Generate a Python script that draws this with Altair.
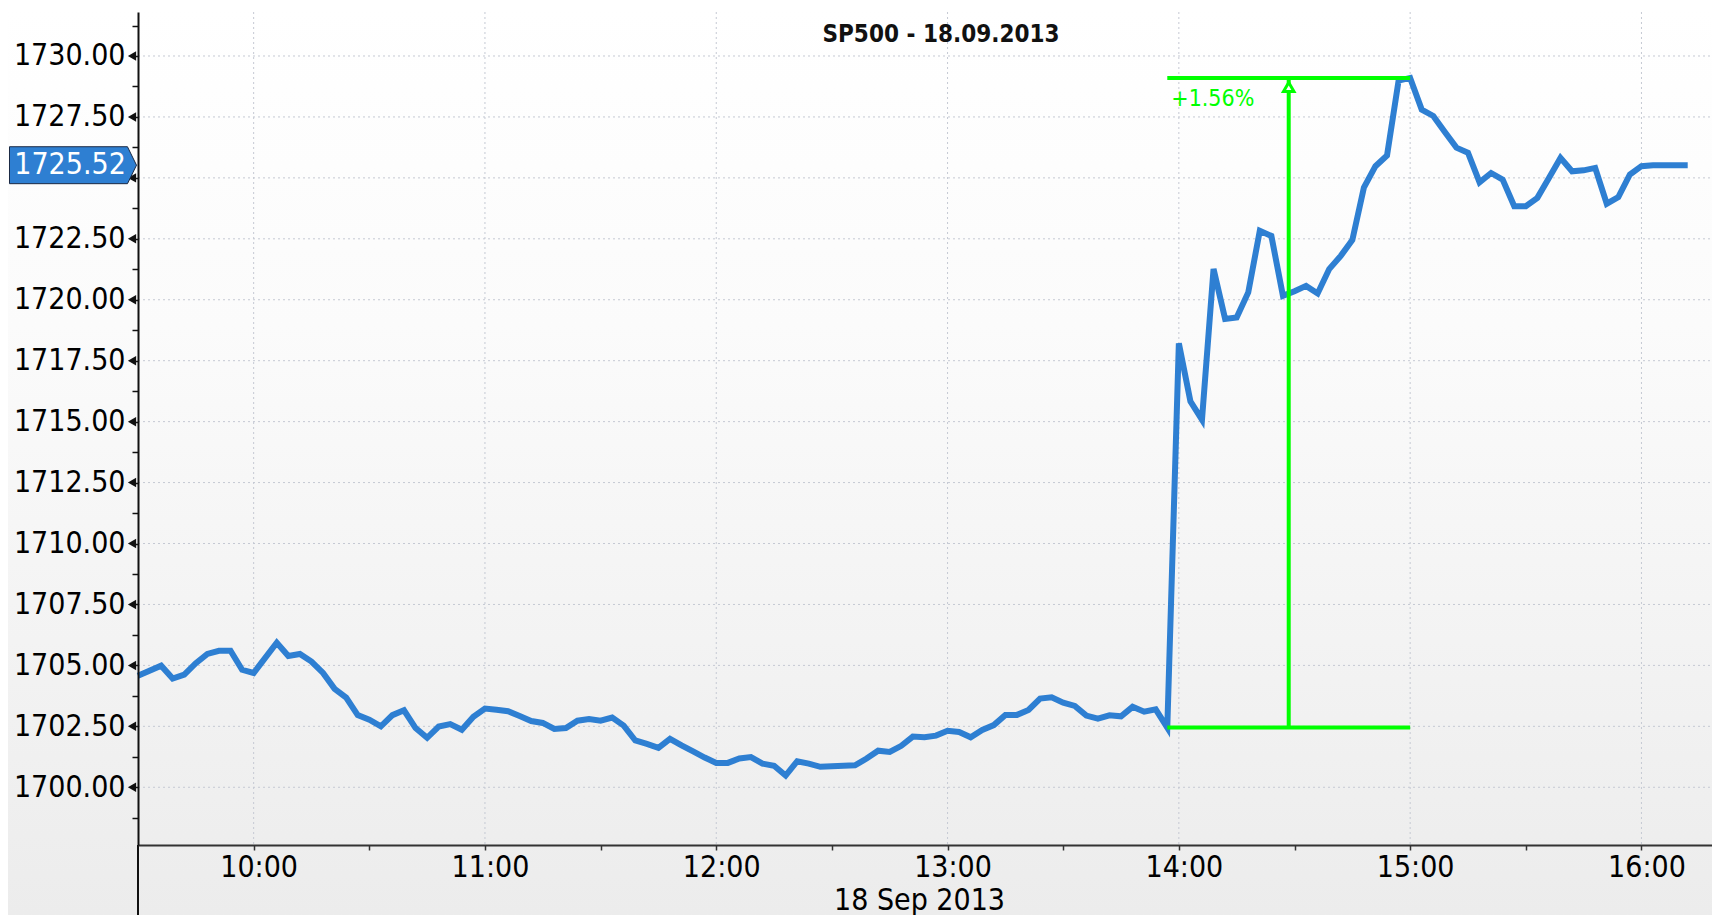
import altair as alt
import pandas as pd

# ---------------- data ----------------
DAY = "2013-09-18T"
times = [
    "09:30", "09:36", "09:39", "09:42", "09:45", "09:48", "09:51", "09:54", "09:57",
    "10:00", "10:06", "10:09", "10:12", "10:15", "10:18", "10:21", "10:24", "10:27",
    "10:30", "10:33", "10:36", "10:39", "10:42", "10:45", "10:48", "10:51", "10:54", "10:57",
    "11:00", "11:03", "11:06", "11:09", "11:12", "11:15", "11:18", "11:21", "11:24", "11:27",
    "11:30", "11:33", "11:36", "11:39", "11:42", "11:45", "11:48", "11:51", "11:54", "11:57",
    "12:00", "12:03", "12:06", "12:09", "12:12", "12:15", "12:18", "12:21", "12:24", "12:27",
    "12:30", "12:33", "12:36", "12:39", "12:42", "12:45", "12:48", "12:51", "12:54", "12:57",
    "13:00", "13:03", "13:06", "13:09", "13:12", "13:15", "13:18", "13:21", "13:24", "13:27",
    "13:30", "13:33", "13:36", "13:39", "13:42", "13:45", "13:48", "13:51", "13:54", "13:57",
    "14:00", "14:03", "14:06", "14:09", "14:12", "14:15", "14:18", "14:21", "14:24", "14:27",
    "14:30", "14:33", "14:36", "14:39", "14:42", "14:45", "14:48", "14:51", "14:54", "14:57",
    "15:00", "15:03", "15:06", "15:09", "15:12", "15:15", "15:18", "15:21", "15:24", "15:27",
    "15:30", "15:33", "15:36", "15:39", "15:42", "15:45", "15:48", "15:51", "15:54", "15:57",
    "16:00", "16:03", "16:06", "16:09", "16:12",
]
prices = [
    1704.58, 1704.99, 1704.46, 1704.62, 1705.09, 1705.47, 1705.60, 1705.60, 1704.82,
    1704.69, 1705.93, 1705.39, 1705.47, 1705.16, 1704.69, 1704.04, 1703.68, 1702.96,
    1702.77, 1702.50, 1702.96, 1703.16, 1702.43, 1702.03, 1702.49, 1702.59, 1702.36, 1702.89,
    1703.23, 1703.18, 1703.12, 1702.92, 1702.72, 1702.64, 1702.39, 1702.43, 1702.73, 1702.80,
    1702.73, 1702.86, 1702.53, 1701.92, 1701.78, 1701.62, 1701.99, 1701.72, 1701.47, 1701.22,
    1701.00, 1701.00, 1701.18, 1701.24, 1700.97, 1700.88, 1700.48, 1701.07, 1700.97, 1700.84,
    1700.86, 1700.88, 1700.90, 1701.18, 1701.50, 1701.45, 1701.70, 1702.08, 1702.05, 1702.12,
    1702.32, 1702.27, 1702.05, 1702.35, 1702.55, 1702.97, 1702.97, 1703.17, 1703.64, 1703.69,
    1703.47, 1703.34, 1702.94, 1702.82, 1702.95, 1702.91, 1703.30, 1703.10, 1703.20, 1702.45,
    1718.21, 1715.83, 1715.08, 1721.26, 1719.21, 1719.27, 1720.30, 1722.83, 1722.62, 1720.16,
    1720.35, 1720.57, 1720.26, 1721.26, 1721.80, 1722.45, 1724.60, 1725.48, 1725.92, 1728.99,
    1729.10, 1727.80, 1727.54, 1726.88, 1726.24, 1726.03, 1724.82, 1725.20, 1724.93, 1723.84,
    1723.84, 1724.18, 1725.00, 1725.82, 1725.27, 1725.31, 1725.41, 1723.94, 1724.21, 1725.14,
    1725.48, 1725.52, 1725.52, 1725.52, 1725.52,
]

hour_lines = ["10:00", "11:00", "12:00", "13:00", "14:00", "15:00", "16:00"]
x_tick_times = ["10:00", "10:30", "11:00", "11:30", "12:00", "12:30", "13:00", "13:30",
                "14:00", "14:30", "15:00", "15:30", "16:00"]
y_major = [1700.0, 1702.5, 1705.0, 1707.5, 1710.0, 1712.5, 1715.0, 1717.5,
           1720.0, 1722.5, 1725.0, 1727.5, 1730.0]
y_minor = [1698.75, 1701.25, 1703.75, 1706.25, 1708.75, 1711.25, 1713.75, 1716.25,
           1718.75, 1721.25, 1723.75, 1726.25, 1728.75, 1731.25]

ann_start = "13:57"
ann_end = "15:00"
ann_mid = "14:28:30"
ann_low = 1702.45
ann_high = 1729.10
ann_label = "+1.56%"
last_price = 1725.52

title_text = "SP500 - 18.09.2013"
date_text = "18 Sep 2013"

# ---------------- layout / style ----------------
W, H = 1574, 833
PAD_L, PAD_T, PAD_B = 130, 4, 70
FONT = "DejaVu Sans Condensed, DejaVu Sans"
BLUE = "#2e7fd2"
GREEN = "#00ff00"
GRID = "#c5c9d3"


def ts(t):
    if t.count(":") == 1:
        t = t + ":00"
    return DAY + t


def dt(t):
    parts = [int(p) for p in t.split(":")]
    while len(parts) < 3:
        parts.append(0)
    return alt.DateTime(year=2013, month=9, date=18, hours=parts[0], minutes=parts[1], seconds=parts[2])


xs = alt.Scale(domain=[dt("09:30"), dt("16:18:18")], nice=False)
ys = alt.Scale(domain=[1697.632, 1731.805], nice=False, zero=False)

x_axis = alt.Axis(
    values=[dt(t) for t in x_tick_times],
    labelExpr="minutes(datum.value) == 0 ? timeFormat(datum.value, '%H:%M') : ''",
    labelFont=FONT, labelFontSize=30, labelColor="#000000", labelPadding=2,
    labelOverlap=False, labelFlush=False, labelOffset=5,
    tickSize=5, tickColor="#333333", tickWidth=1.5,
    domainColor="#333333", domainWidth=2, grid=False, zindex=1,
    title=date_text, titleFont=FONT, titleFontSize=30, titleFontWeight="normal",
    titleColor="#000000", titleX=781, titleY=64, titleAlign="center",
    titleBaseline="alphabetic", titleAngle=0,
)
y_axis = alt.Axis(
    values=sorted(y_major + y_minor),
    labelExpr="(datum.value % 2.5 == 0 && datum.value != 1725) ? format(datum.value, '.2f') : ''",
    labelFont=FONT, labelFontSize=30, labelColor="#000000", labelPadding=7,
    labelOverlap=False, labelFlush=False,
    tickSize=6, tickColor="#111111", tickWidth=1.5,
    domainColor="#111111", domainWidth=2, grid=False, zindex=1, title=None,
)


def X(field):
    return alt.X(field, scale=xs, axis=x_axis)


def Y(field):
    return alt.Y(field, scale=ys, axis=y_axis)


line_df = pd.DataFrame({"time": [ts(t) for t in times], "price": prices})
hour_df = pd.DataFrame({"time": [ts(t) for t in hour_lines]})
major_df = pd.DataFrame({"price": y_major})
one_df = pd.DataFrame({"k": [0]})
hbar_df = pd.DataFrame({"time": [ts(ann_start)] * 2, "end": [ts(ann_end)] * 2,
                        "price": [ann_low, ann_high]})
vbar_df = pd.DataFrame({"time": [ts(ann_mid)], "price": [ann_low], "high": [ann_high]})
arrow_df = pd.DataFrame({"time": [ts(ann_mid)], "price": [ann_high]})
ann_df = pd.DataFrame({"time": [ts(ann_start)], "price": [ann_high], "label": [ann_label]})
last_df = pd.DataFrame({"price": [last_price]})

gradient = {
    "gradient": "linear",
    "x1": 0, "y1": 0, "x2": 0, "y2": 1,
    "stops": [{"offset": 0, "color": "#ffffff"},
              {"offset": 0.35, "color": "#fbfbfb"},
              {"offset": 1, "color": "#ececec"}],
}

bg = alt.Chart(one_df).mark_rect(fill=gradient).encode(
    x=alt.value(-PAD_L), x2=alt.value(W), y=alt.value(-PAD_T), y2=alt.value(H + PAD_B)
)

vgrid = alt.Chart(hour_df).mark_rule(color=GRID, strokeDash=[2, 3], strokeWidth=1).encode(
    x=X("time:T"), y=alt.value(0), y2=alt.value(H)
)
hgrid = alt.Chart(major_df).mark_rule(color=GRID, strokeDash=[2, 3], strokeWidth=1).encode(
    y=Y("price:Q"), x=alt.value(0), x2=alt.value(W)
)

axis_ext = alt.Chart(one_df).mark_rule(color="#111111", strokeWidth=2).encode(
    x=alt.value(0), y=alt.value(H), y2=alt.value(H + PAD_B)
)

tri = alt.Chart(major_df).mark_point(shape="triangle-left", filled=True, color="#111111",
                                     size=90, opacity=1).encode(
    x=alt.value(-6), y=Y("price:Q")
)

line = alt.Chart(line_df).mark_line(color=BLUE, strokeWidth=6).encode(
    x=X("time:T"), y=Y("price:Q"),
)

hbars = alt.Chart(hbar_df).mark_rule(color=GREEN, strokeWidth=4).encode(
    x=X("time:T"), x2="end:T", y=Y("price:Q"),
)
vbar = alt.Chart(vbar_df).mark_rule(color=GREEN, strokeWidth=4).encode(
    x=X("time:T"), y=Y("price:Q"), y2="high:Q",
)
arrow = alt.Chart(arrow_df).mark_point(shape="triangle-up", filled=True, fill="#ffffff",
                                       stroke=GREEN, strokeWidth=3, size=110, opacity=1,
                                       yOffset=9).encode(
    x=X("time:T"), y=Y("price:Q")
)
ann_text = alt.Chart(ann_df).mark_text(color=GREEN, font=FONT, fontSize=23, align="left",
                                       baseline="alphabetic", dx=4, dy=28).encode(
    x=X("time:T"), y=Y("price:Q"), text="label:N",
)

TAG = "M-1,-0.291L0.858,-0.291L1,0L0.858,0.291L-1,0.291Z"
tag = alt.Chart(last_df).mark_point(shape=TAG, filled=True, fill=BLUE, stroke="#1b2a44",
                                    strokeWidth=1, size=127 * 127, opacity=1).encode(
    x=alt.value(-65), y=Y("price:Q")
)
tag_text = alt.Chart(last_df).mark_text(color="#ffffff", font=FONT, fontSize=30,
                                        align="center", baseline="middle").encode(
    x=alt.value(-68), y=Y("price:Q"),
    text=alt.Text("price:Q", format=".2f"),
)

title = alt.Chart(one_df).mark_text(color="#111111", font=FONT, fontSize=24, fontWeight="bold",
                                    align="center", baseline="alphabetic").encode(
    x=alt.value(803), y=alt.value(30), text=alt.value(title_text)
)

chart = alt.layer(
    bg, vgrid, hgrid, axis_ext, tri, line, hbars, vbar, arrow, ann_text, tag, tag_text, title
).properties(
    width=W, height=H,
    padding={"left": PAD_L, "top": PAD_T, "right": 0, "bottom": PAD_B},
    autosize=alt.AutoSizeParams(type="none"),
    background="#f3f3f3",
).configure_view(stroke=None)

chart.save("out.html", embed_options={"renderer": "svg", "actions": False})
